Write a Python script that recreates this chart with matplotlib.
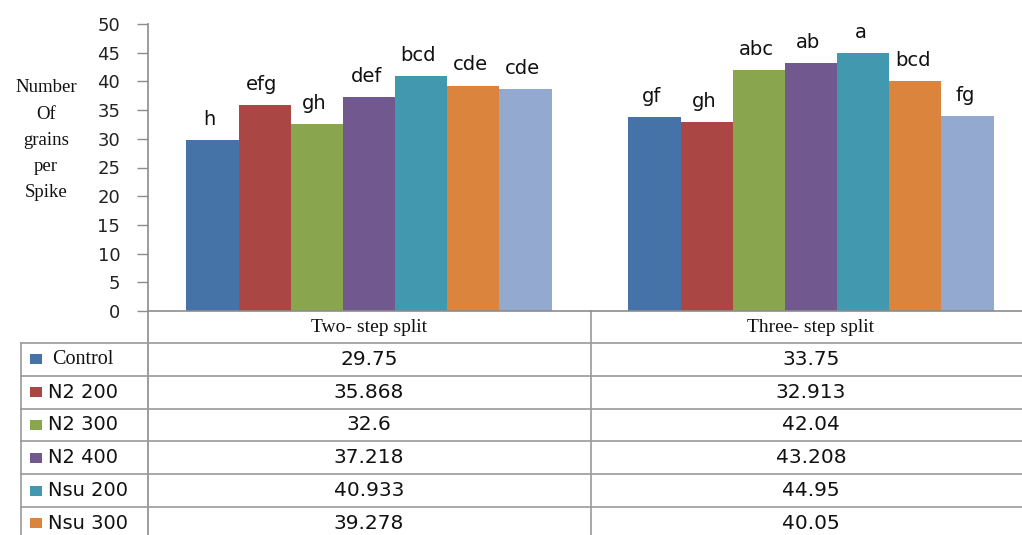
import matplotlib
matplotlib.use("Agg")
import matplotlib.pyplot as plt
import matplotlib.transforms as mtransforms
from matplotlib.patches import Rectangle

# ---------------- data ----------------
categories = ["Two- step split", "Three- step split"]
series = ["Control", "N2 200", "N2 300", "N2 400", "Nsu 200", "Nsu 300", "Nsu 400"]
two_step = [29.75, 35.868, 32.6, 37.218, 40.933, 39.278, 38.7]
three_step = [33.75, 32.913, 42.04, 43.208, 44.95, 40.05, 34.0]
two_step_txt = ["29.75", "35.868", "32.6", "37.218", "40.933", "39.278", "38.7"]
three_step_txt = ["33.75", "32.913", "42.04", "43.208", "44.95", "40.05", "34.0"]
letters_two = ["h", "efg", "gh", "def", "bcd", "cde", "cde"]
letters_three = ["gf", "gh", "abc", "ab", "a", "bcd", "fg"]
yticks = [0, 5, 10, 15, 20, 25, 30, 35, 40, 45, 50]
ylabel_lines = ["Number", "Of", "grains", "per", "Spike"]

colors = ["#4572A7", "#AA4643", "#89A54E", "#71588F", "#4198AF", "#DB843D", "#93A9CF"]

W, H = 1022, 535
fig = plt.figure(figsize=(W / 100, H / 100), dpi=100)
fig.patch.set_facecolor("white")

# main plotting axes (pixel-based placement)
x0, x1, ytop, ybot = 148, 1032, 24, 311
ax = fig.add_axes([x0 / W, 1 - ybot / H, (x1 - x0) / W, (ybot - ytop) / H])
ax.set_xlim(-0.5, 1.5)
ax.set_ylim(0, 50)

values = [two_step, three_step]
letters = [letters_two, letters_three]
n = len(series)
bw = 0.118
for ci in range(len(categories)):
    for si in range(n):
        xpos = ci + (si - (n - 1) / 2) * bw
        v = values[ci][si]
        ax.bar(xpos, v, width=bw, color=colors[si], edgecolor="none", zorder=2)
        ax.annotate(letters[ci][si], (xpos, v), xytext=(-2, 8), textcoords="offset points",
                    ha="center", va="bottom", fontsize=14, family="DejaVu Sans",
                    color="#111111")

ax.set_yticks(yticks)
ax.set_yticklabels([str(t) for t in yticks], fontsize=13, family="DejaVu Sans", color="#222222")
ax.tick_params(axis="y", direction="out", length=8, width=1, color="#8c8c8c", pad=12)
ax.set_xticks([])
for s in ["top", "right"]:
    ax.spines[s].set_visible(False)
ax.spines["left"].set_color("#8c8c8c")
ax.spines["bottom"].set_color("#8c8c8c")
ax.spines["left"].set_linewidth(1.2)
ax.spines["bottom"].set_linewidth(1.2)
ax.set_facecolor("none")

# overlay axes in pixel coordinates for the data table and labels
tax = fig.add_axes([0, 0, 1, 1], zorder=-1)
tax.set_xlim(0, W)
tax.set_ylim(H, 0)
tax.axis("off")

# y label
for i, line in enumerate(ylabel_lines):
    tax.text(46, 88 + i * 26.2, line, ha="center", va="center", fontsize=13.5,
             family="Liberation Serif", color="#111111")

# table grid
lc = "#9a9a9a"
hdr_bot = 343
row_h = 32.8
tax.plot([148, 148], [ybot, H], color="#8c8c8c", lw=1.2)
tax.plot([591, 591], [ybot, H], color=lc, lw=1.2)
tax.plot([21, 21], [hdr_bot, H], color=lc, lw=1.2)
for r in range(n + 1):
    yy = hdr_bot + r * row_h
    if yy < H:
        tax.plot([21, W], [yy, yy], color=lc, lw=1.2)

blend = mtransforms.blended_transform_factory(ax.transData, tax.transData)
for ci, cat in enumerate(categories):
    tax.text(ci, 327, cat, transform=blend, ha="center", va="center",
             fontsize=14, family="Liberation Serif", color="#111111")

table_txt = [two_step_txt, three_step_txt]
for si in range(n):
    yc = hdr_bot + (si + 0.5) * row_h
    if yc > H - 8:
        continue
    tax.add_patch(Rectangle((30, yc - 5), 12, 10, color=colors[si], lw=0))
    if series[si] == "Control":
        tax.text(52, yc, series[si], ha="left", va="center", fontsize=14.5,
                 family="Liberation Serif", color="#111111")
    else:
        tax.text(48, yc, series[si], ha="left", va="center", fontsize=14,
                 family="DejaVu Sans", color="#111111")
    for ci in range(len(categories)):
        tax.text(ci, yc, table_txt[ci][si], transform=blend, ha="center", va="center",
                 fontsize=14.5, family="DejaVu Sans", color="#111111")

fig.savefig("out.png", dpi=100, facecolor="white")
